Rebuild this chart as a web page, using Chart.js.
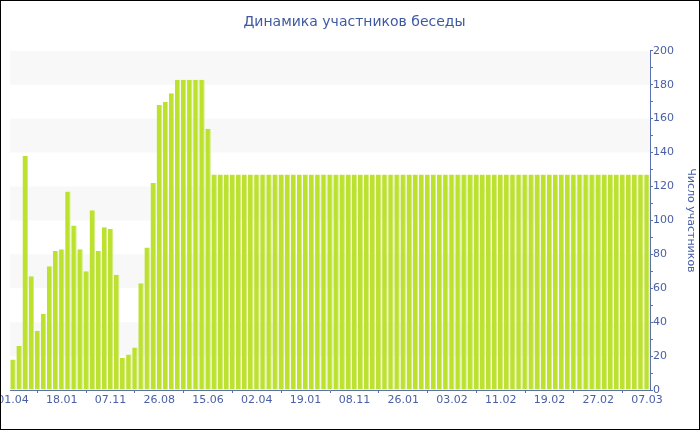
<!DOCTYPE html>
<html>
<head>
<meta charset="utf-8">
<script src="https://cdn.jsdelivr.net/npm/chart.js@4/dist/chart.umd.min.js"></script>
<style>
    body { margin: 0; background: #fff; }
    #frame { width: 700px; height: 430px; border: 1px solid #000; box-sizing: border-box; }
    canvas { display: block; }
</style>
</head>
<body>
<div id="frame"><canvas id="membersChart" width="698" height="428"></canvas></div>
<script>
// labels shown under the axis, one for every 8th bar
const tickLabels = ['01.04', '18.01', '07.11', '26.08', '15.06', '02.04', '19.01',
    '08.11', '26.01', '03.02', '11.02', '19.02', '27.02', '07.03'];

// number of chat members per bar
const members = [
    18, 26, 138, 67, 35, 45, 73, 82, 83, 117,
    97, 83, 70, 106, 82, 96, 95, 68, 19, 21,
    25, 63, 84, 122, 168, 170, 175, 183, 183, 183,
    183, 183, 154, 127, 127, 127, 127, 127, 127, 127,
    127, 127, 127, 127, 127, 127, 127, 127, 127, 127,
    127, 127, 127, 127, 127, 127, 127, 127, 127, 127,
    127, 127, 127, 127, 127, 127, 127, 127, 127, 127,
    127, 127, 127, 127, 127, 127, 127, 127, 127, 127,
    127, 127, 127, 127, 127, 127, 127, 127, 127, 127,
    127, 127, 127, 127, 127, 127, 127, 127, 127, 127,
    127, 127, 127, 127, 127
];

// light bands behind the bars
const bands = [[20, 40], [60, 80], [100, 120], [140, 160], [180, 200]];

const labels = members.map((v, i) => (i % 8 === 0 ? tickLabels[i / 8] : ''));

const axisColor = '#5b70b3';
const textColor = '#4a60a6';

const bandPlugin = {
    id: 'bands',
    beforeDatasetsDraw(chart) {
        const { ctx, chartArea } = chart;
        const y = chart.scales.y;
        ctx.save();
        ctx.fillStyle = '#f8f8f8';
        bands.forEach(([from, to]) => {
            const top = y.getPixelForValue(to);
            const bottom = y.getPixelForValue(from);
            ctx.fillRect(chartArea.left, top, chartArea.right - chartArea.left, bottom - top);
        });
        ctx.restore();
    }
};

Chart.defaults.font.family = '"DejaVu Sans", Verdana, sans-serif';
Chart.defaults.font.size = 11;
Chart.defaults.color = textColor;

new Chart(document.getElementById('membersChart'), {
    type: 'bar',
    data: {
        labels: labels,
        datasets: [{
            label: 'Число участников',
            data: members,
            backgroundColor: '#bde12f',
            borderColor: '#d3ec80',
            borderWidth: { left: 0, right: 1, top: 0, bottom: 0 },
            borderSkipped: false,
            barPercentage: 0.9,
            categoryPercentage: 1
        }]
    },
    options: {
        responsive: false,
        animation: false,
        devicePixelRatio: 1,
        layout: { padding: { left: 9, right: 0, top: 0, bottom: 0 } },
        plugins: {
            legend: { display: false },
            tooltip: { enabled: false },
            title: {
                display: true,
                text: 'Динамика участников беседы',
                color: '#3d59a0',
                font: { size: 14, weight: 'normal' },
                padding: { top: 13, bottom: 20 }
            }
        },
        scales: {
            x: {
                grid: { drawOnChartArea: false, drawTicks: true, tickLength: 3, color: axisColor },
                border: { display: true, color: axisColor },
                ticks: {
                    autoSkip: false,
                    maxRotation: 0,
                    padding: 1,
                    callback: function (value, index) {
                        return labels[index] ? labels[index] : null;
                    }
                },
                afterFit: function (scale) {
                    scale.paddingLeft = 0;
                    scale.paddingRight = 0;
                    scale.height = 39;
                }
            },
            y: {
                position: 'right',
                min: 0,
                max: 200,
                grid: { drawOnChartArea: false, drawTicks: true, tickLength: 3, color: axisColor },
                border: { display: true, color: axisColor },
                ticks: {
                    stepSize: 10,
                    padding: 0,
                    callback: function (value) {
                        return value % 20 === 0 ? value : '';
                    }
                },
                title: {
                    display: true,
                    text: 'Число участников',
                    color: textColor,
                    font: { size: 11 },
                    padding: { top: 2, bottom: 0 }
                },
                afterFit: function (scale) {
                    scale.width = 49;
                }
            }
        }
    },
    plugins: [bandPlugin]
});
</script>
</body>
</html>
